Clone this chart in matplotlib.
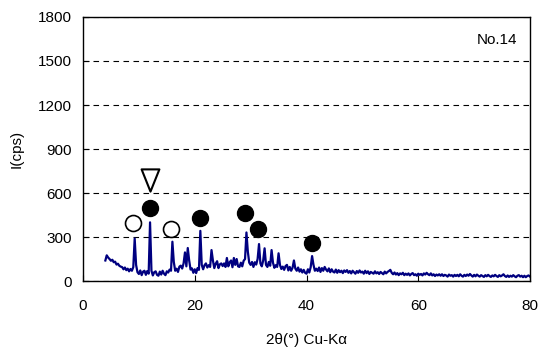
import numpy as np
import matplotlib
matplotlib.use('Agg')
import matplotlib.pyplot as plt
from matplotlib.path import Path

plt.rcParams['font.family'] = ['Liberation Sans', 'DejaVu Sans']

# scan: start angle, step (deg 2theta), intensities (cps)
start = 4.0
step = 0.25
counts = [
    140, 175, 160, 150, 138, 145, 128, 132, 112, 118, 104, 98,      # 4 - 6.75
    95, 80, 92, 74, 84, 66, 82, 70, 95, 290, 110, 60,               # 7 - 9.75
    48, 72, 40, 64, 70, 42, 68, 50, 400, 70, 38, 60,                # 10 - 12.75
    66, 42, 36, 64, 44, 70, 50, 40, 66, 58, 78, 70,                 # 13 - 15.75
    268, 130, 70, 84, 62, 98, 105, 85, 120, 195, 100, 225,          # 16 - 18.75
    140, 78, 86, 56, 80, 54, 88, 76, 342, 110, 80, 108,             # 19 - 21.75
    120, 92, 108, 96, 211, 140, 88, 118, 135, 88, 114, 120,         # 22 - 24.75
    102, 120, 96, 157, 100, 128, 140, 94, 157, 110, 150, 100,       # 25 - 27.75
    96, 125, 100, 138, 150, 331, 200, 125, 110, 130, 96, 128,       # 28 - 30.75
    112, 150, 252, 120, 100, 140, 223, 110, 96, 130, 104, 211,      # 31 - 33.75
    125, 90, 108, 96, 189, 110, 82, 98, 76, 102, 110, 72,           # 34 - 36.75
    96, 70, 90, 140, 85, 70, 92, 64, 80, 58, 76, 56,                # 37 - 39.75
    50, 80, 58, 95, 170, 110, 70, 84, 68, 92, 62, 88,               # 40 - 42.75
    70, 96, 78, 66, 86, 60, 80, 64, 58, 78, 56, 74,                 # 43 - 45.75
    60, 70, 54, 72, 62, 74, 56, 68, 52, 70, 60, 50,                 # 46 - 48.75
    68, 56, 72, 58, 64, 50, 70, 54, 66, 48, 62, 56,                 # 49 - 51.75
    50, 66, 52, 60, 48, 62, 54, 46, 64, 52, 62, 68,                 # 52 - 54.75
    76, 56, 46, 58, 44, 54, 40, 52, 46, 56, 40, 50,                 # 55 - 57.75
    42, 52, 38, 48, 54, 40, 46, 36, 50, 42, 48, 38,                 # 58 - 60.75
    52, 44, 56, 46, 40, 52, 38, 46, 34, 44, 38, 46,                 # 61 - 63.75
    36, 46, 34, 42, 38, 30, 44, 36, 40, 30, 42, 34,                 # 64 - 66.75
    42, 32, 46, 36, 30, 42, 34, 44, 36, 48, 38, 30,                 # 67 - 69.75
    42, 32, 44, 36, 30, 40, 34, 28, 40, 32, 42, 34,                 # 70 - 72.75
    28, 38, 32, 42, 34, 28, 40, 32, 38, 46, 34, 28,                 # 73 - 75.75
    38, 28, 36, 30, 40, 32, 26, 36, 40, 30, 36, 26,                 # 76 - 78.75
    36, 26, 34, 38, 30,                                             # 79 - 80
]
two_theta = start + step * np.arange(len(counts))

# phase markers (2theta, height)
open_x = [8.95, 15.75]
open_y = [395, 355]
filled_x = [12.0, 20.9, 29.0, 31.3, 41.0]
filled_y = [498, 430, 464, 355, 259]
tri_x = [12.0]
tri_y = [689]

fig = plt.figure(figsize=(5.4, 3.49), dpi=100)
ax = fig.add_axes([0.1537, 0.1948, 0.8278, 0.7565])

ax.plot(two_theta, counts, color='#000080', lw=1.6)

ax.plot(open_x, open_y, 'o', ms=11.5, mfc='white', mec='black', mew=1.2, ls='none')
ax.plot(filled_x, filled_y, 'o', ms=11.5, mfc='black', mec='black', ls='none')
tri = Path([(-0.8, 1.0), (0.8, 1.0), (0.0, -1.0), (-0.8, 1.0)],
           [Path.MOVETO, Path.LINETO, Path.LINETO, Path.CLOSEPOLY])
ax.plot(tri_x, tri_y, marker=tri, ms=16, mfc='white', mec='black', mew=1.5, ls='none')

ax.set_xlim(0, 80)
ax.set_ylim(0, 1800)
ax.set_xticks([0, 20, 40, 60, 80])
ax.set_yticks([0, 300, 600, 900, 1200, 1500, 1800])
ax.yaxis.grid(True, color='black', ls=(0, (5, 4)), lw=0.8)
ax.tick_params(direction='in', length=4, labelsize=11, colors='black')
ax.tick_params(axis='x', pad=13)
ax.tick_params(axis='y', pad=8)
for s in ax.spines.values():
    s.set_color('black')
    s.set_linewidth(1.0)

ax.set_xlabel('2θ(°) Cu-Kα', fontsize=11, labelpad=14)
ax.set_ylabel('I(cps)', fontsize=11, labelpad=10)
ax.text(0.971, 0.913, 'No.14', transform=ax.transAxes, ha='right', va='center', fontsize=11)

fig.savefig('out.png', dpi=100)
